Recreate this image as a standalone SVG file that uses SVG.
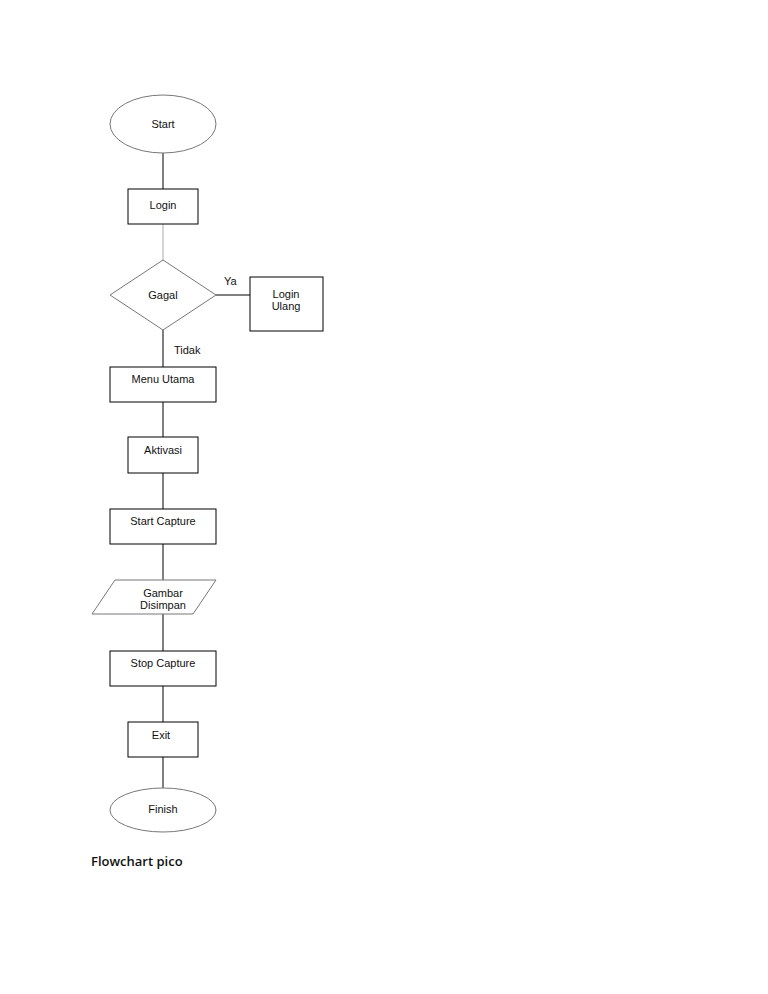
<svg xmlns="http://www.w3.org/2000/svg" width="768" height="994" viewBox="0 0 768 994">
<style>
.s{fill:#fff;stroke:#000;stroke-width:1}
.e{fill:#fff;stroke:#777;stroke-width:1}
.t{font-family:"Liberation Sans",Arial,sans-serif;font-size:11px;fill:#111;text-anchor:middle}
.l{font-family:"Liberation Sans",Arial,sans-serif;font-size:11px;fill:#111}
.c{stroke:#000;stroke-width:1;fill:none}
</style>
<rect width="768" height="994" fill="#fff"/>
<g id="connectors">
<line class="c" x1="163" y1="153" x2="163" y2="189"/>
<line x1="163" y1="224" x2="163" y2="260" stroke="#aaa"/>
<line class="c" x1="216" y1="295" x2="250" y2="295"/>
<line class="c" x1="163" y1="330" x2="163" y2="367"/>
<line class="c" x1="163" y1="402" x2="163" y2="437"/>
<line class="c" x1="163" y1="473" x2="163" y2="509"/>
<line class="c" x1="163" y1="544" x2="163" y2="580"/>
<line class="c" x1="163" y1="614" x2="163" y2="651"/>
<line class="c" x1="163" y1="686" x2="163" y2="722"/>
<line class="c" x1="163" y1="757" x2="163" y2="788"/>
<text class="l" x="224" y="285">Ya</text>
<text class="l" x="174" y="354">Tidak</text>
</g>
<g id="start"><ellipse class="e" cx="163" cy="124" rx="53" ry="29"/><text class="t" x="163" y="128">Start</text></g>
<g id="login"><rect class="s" x="128" y="189" width="70" height="35"/><text class="t" x="163" y="209">Login</text></g>
<g id="gagal"><polygon class="e" points="163,260 216,295 163,330 110,295"/><text class="t" x="163" y="299">Gagal</text></g>
<g id="loginulang"><rect class="s" x="250" y="277" width="73" height="54"/><text class="t" x="286" y="298">Login</text><text class="t" x="286" y="310">Ulang</text></g>
<g id="menu"><rect class="s" x="110" y="367" width="106" height="35"/><text class="t" x="163" y="383">Menu Utama</text></g>
<g id="aktivasi"><rect class="s" x="128" y="437" width="70" height="36"/><text class="t" x="163" y="454">Aktivasi</text></g>
<g id="startcapture"><rect class="s" x="110" y="509" width="106" height="35"/><text class="t" x="163" y="525">Start Capture</text></g>
<g id="gambar"><polygon class="e" points="115,580 216,580 193,614 92,614"/><text class="t" x="163" y="597">Gambar</text><text class="t" x="163" y="609">Disimpan</text></g>
<g id="stopcapture"><rect class="s" x="110" y="651" width="106" height="35"/><text class="t" x="163" y="667">Stop Capture</text></g>
<g id="exit"><rect class="s" x="128" y="722" width="70" height="35"/><text class="t" x="161" y="739">Exit</text></g>
<g id="finish"><ellipse class="e" cx="163" cy="810" rx="53" ry="22"/><text class="t" x="163" y="813">Finish</text></g>
<text x="91" y="866" font-family="'Open Sans',sans-serif" font-weight="600" font-size="13" fill="#111">Flowchart pico</text>
</svg>
